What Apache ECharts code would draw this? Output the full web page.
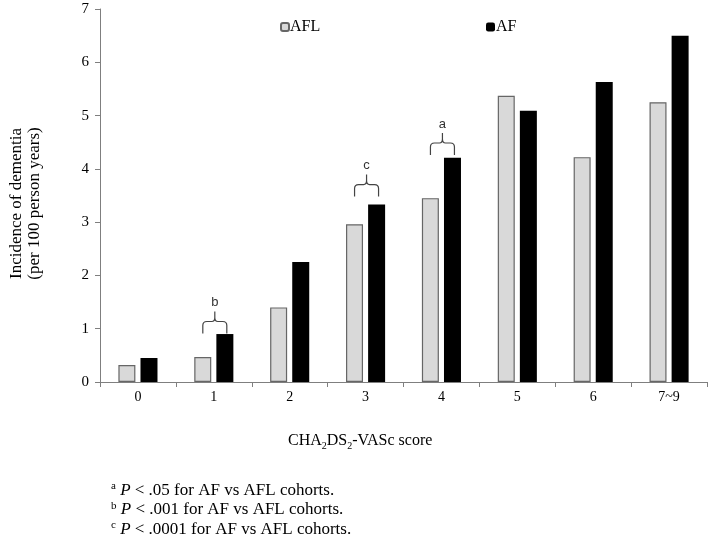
<!DOCTYPE html>
<html>
<head>
<meta charset="utf-8">
<script src="https://cdn.jsdelivr.net/npm/echarts@6/dist/echarts.min.js"></script>
<style>
html,body{margin:0;padding:0;background:#fff;}
#chart{width:708px;height:545px;}
</style>
</head>
<body>
<div id="chart"></div>
<script>
var categories = ['0', '1', '2', '3', '4', '5', '6', '7~9'];
var aflValues = [0.32, 0.47, 1.40, 2.96, 3.45, 5.37, 4.22, 5.25];
var afValues = [0.45, 0.90, 2.25, 3.33, 4.21, 5.09, 5.63, 6.50];
var yTicks = [0, 1, 2, 3, 4, 5, 6, 7];
// significance brackets: [category index, bracket base value, letter]
var brackets = [[1, 0.91, 'b'], [3, 3.48, 'c'], [4, 4.26, 'a']];
var footnotes = [
  ['a', '.05'],
  ['b', '.001'],
  ['c', '.0001']
];

var SERIF = '"Liberation Serif", "Times New Roman", serif';
var SANS = '"Liberation Sans", Arial, sans-serif';

var chart = echarts.init(document.getElementById('chart'), null, {renderer: 'canvas'});

var footGraphics = footnotes.map(function (f, i) {
  return {
    type: 'text',
    left: 111,
    top: 481 + i * 19.3,
    style: {
      text: '{sup|' + f[0] + '} {it|P} < ' + f[1] + ' for AF vs AFL cohorts.',
      font: '17px ' + SERIF,
      fill: '#000',
      rich: {
        sup: {fontSize: 11, fontFamily: SERIF, verticalAlign: 'top', lineHeight: 19, fill: '#000'},
        it: {fontSize: 17, fontFamily: SERIF, fontStyle: 'italic', lineHeight: 19, fill: '#000'}
      }
    }
  };
});

var option = {
  backgroundColor: '#fff',
  animation: false,
  grid: {left: 91, right: 1, top: 9, bottom: 163, containLabel: false},
  legend: [
    {
      data: ['AFL'], left: 275, top: 14, itemWidth: 8, itemHeight: 8,
      textStyle: {fontFamily: SERIF, fontSize: 16, color: '#000', padding: [0, 0, 0, -4]}
    },
    {
      data: ['AF'], left: 481, top: 14, itemWidth: 9, itemHeight: 9,
      textStyle: {fontFamily: SERIF, fontSize: 16, color: '#000', padding: [0, 0, 0, -4]}
    }
  ],
  xAxis: {
    type: 'category',
    data: categories,
    axisLine: {lineStyle: {color: '#7f7f7f', width: 1}},
    axisTick: {show: true, alignWithLabel: false, length: 5, lineStyle: {color: '#7f7f7f'}},
    axisLabel: {fontFamily: SERIF, fontSize: 14, color: '#000', margin: 8},
    splitLine: {show: false}
  },
  yAxis: {
    type: 'value',
    min: 0, max: 7, interval: 1,
    name: 'Incidence of dementia\n(per 100 person years)',
    nameLocation: 'middle',
    nameRotate: 90,
    nameGap: 56,
    nameTextStyle: {fontFamily: SERIF, fontSize: 17, color: '#000', lineHeight: 18, padding: [0, 16, 0, 0]},
    axisLine: {show: true, lineStyle: {color: '#7f7f7f', width: 1}},
    axisTick: {show: true, length: 5, lineStyle: {color: '#7f7f7f'}},
    axisLabel: {
      fontFamily: SERIF, fontSize: 15, color: '#000', margin: 11,
      formatter: function (v) { return yTicks.indexOf(v) >= 0 ? String(v) : ''; }
    },
    splitLine: {show: false}
  },
  series: [
    {
      name: 'AFL', type: 'bar', data: aflValues,
      barWidth: 17, barGap: '30%',
      itemStyle: {color: '#d9d9d9', borderColor: '#666', borderWidth: 1.2}
    },
    {
      name: 'AF', type: 'bar', data: afValues,
      barWidth: 17,
      itemStyle: {color: '#000'}
    },
    {
      name: 'brackets', type: 'custom', data: brackets,
      encode: {x: 0, y: 1},
      z: 10,
      silent: true,
      renderItem: function (params, api) {
        var pt = api.coord([api.value(0), api.value(1)]);
        var cx = pt[0] + 1, yb = pt[1];
        var half = 12, legs = 12, peak = 10, r = 4;
        var x1 = cx - half, x2 = cx + half, yt = yb - legs, yp = yt - peak;
        var d = 'M' + x1 + ' ' + yb + ' L' + x1 + ' ' + (yt + r) +
          ' Q' + x1 + ' ' + yt + ' ' + (x1 + r) + ' ' + yt +
          ' L' + (cx - 3) + ' ' + yt +
          ' Q' + cx + ' ' + yt + ' ' + cx + ' ' + (yt - 4) +
          ' L' + cx + ' ' + yp +
          ' M' + cx + ' ' + (yt - 4) +
          ' Q' + cx + ' ' + yt + ' ' + (cx + 3) + ' ' + yt +
          ' L' + (x2 - r) + ' ' + yt +
          ' Q' + x2 + ' ' + yt + ' ' + x2 + ' ' + (yt + r) +
          ' L' + x2 + ' ' + yb;
        return {
          type: 'group',
          children: [
            {type: 'path', shape: {pathData: d}, style: {fill: null, stroke: '#444', lineWidth: 1.2}},
            {
              type: 'text',
              style: {
                text: brackets[params.dataIndex][2],
                x: cx, y: yp - 9,
                textAlign: 'center', textVerticalAlign: 'middle',
                font: '13px ' + SANS, fill: '#333'
              }
            }
          ]
        };
      }
    }
  ],
  graphic: [
    {
      type: 'text',
      left: 288,
      top: 433,
      style: {
        text: 'CHA{sub|2}DS{sub|2}-VASc score',
        font: '16px ' + SERIF,
        fill: '#000',
        rich: {
          sub: {fontSize: 10, fontFamily: SERIF, verticalAlign: 'bottom', lineHeight: 20, fill: '#000'}
        }
      }
    }
  ].concat(footGraphics)
};

chart.setOption(option);
</script>
</body>
</html>
